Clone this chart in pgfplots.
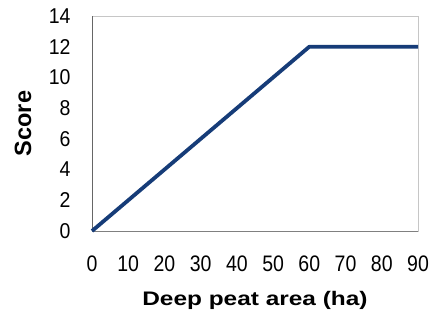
\documentclass[border=0pt]{standalone}
\usepackage{fontspec}
\setmainfont{Liberation Sans}
\usepackage{graphicx}
\usepackage{pgfplots}
\pgfplotsset{compat=1.18}
\definecolor{navy}{RGB}{22,60,120}
\begin{document}
\begin{tikzpicture}
\begin{axis}[
  scale only axis,
  width=326bp, height=215bp,
  xmin=0, xmax=90, ymin=0, ymax=14,
  xtick={0,10,...,90}, ytick={0,2,...,14},
  major tick length=0pt,
  axis line style={draw=gray!45, line width=0.6pt},
  tick label style={font=\fontsize{19.5bp}{21bp}\selectfont},
  xticklabel={\scalebox{1}[1.15]{\pgfmathprintnumber[assume math mode=true]{\tick}}},
  yticklabel={\scalebox{1}[1.1]{\pgfmathprintnumber[assume math mode=true]{\tick}}},
  xticklabel style={anchor=center, yshift=-33bp},
  yticklabel style={anchor=east, xshift=-18bp},
  xlabel={\scalebox{1.11}[0.89]{\bfseries Deep peat area (ha)}},
  ylabel={\bfseries Score},
  xlabel style={font=\fontsize{22bp}{24bp}\selectfont, at={(rel axis cs:0.5,0)}, anchor=center, yshift=-69bp},
  ylabel style={font=\fontsize{23.5bp}{26bp}\selectfont, at={(rel axis cs:0,0.5)}, anchor=center, yshift=69bp},
  clip=false,
]
\coordinate (bl) at (rel axis cs:0,0);
\coordinate (tr) at (rel axis cs:1,1);
\draw[gray!80!black, line width=0.8pt] (rel axis cs:0,0) -- (rel axis cs:0,1);
\draw[gray, line width=0.7pt] (rel axis cs:0,0) -- (rel axis cs:1,0);
\addplot[navy, line width=3.8bp, line join=round] coordinates {(0,0) (60,12) (90,12)};
\end{axis}
\pgfresetboundingbox
\path ([shift={(-92bp,-84bp)}]bl) rectangle ([shift={(13bp,16bp)}]tr);
\end{tikzpicture}
\end{document}
